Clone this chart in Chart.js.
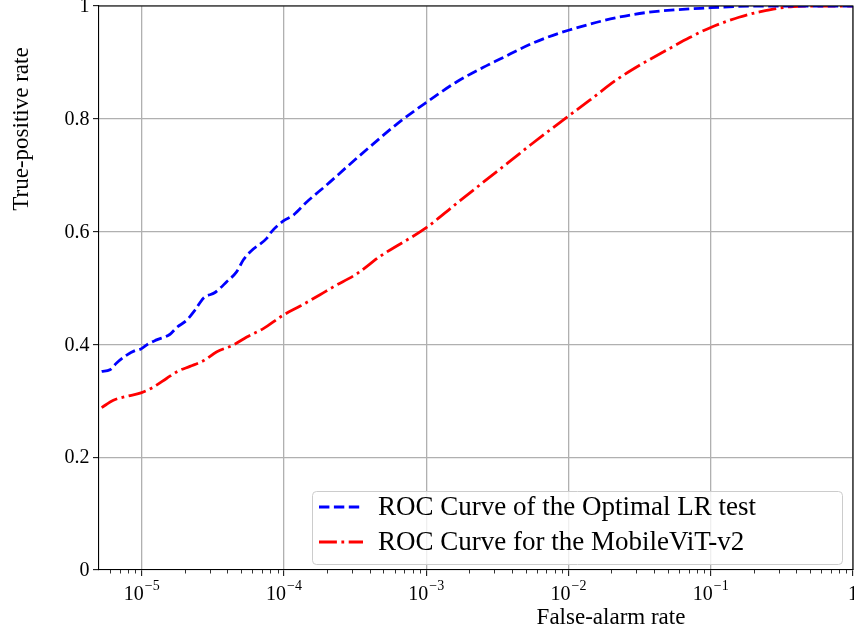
<!DOCTYPE html>
<html>
<head>
<meta charset="utf-8">
<script src="https://cdn.jsdelivr.net/npm/chart.js@4.4.1/dist/chart.umd.min.js"></script>
<style>
  html, body { margin: 0; padding: 0; background: #fff; }
  #wrap { width: 854px; height: 632px; }
</style>
</head>
<body>
<div id="wrap"><canvas id="roc" width="854" height="632"></canvas></div>
<script>
const SERIF = '"Liberation Serif", "DejaVu Serif", serif';

// ROC curve of the optimal LR test (false-alarm rate, true-positive rate)
const optimalFar = [5.22e-6, 5.97e-6, 6.65e-6, 7.83e-6, 8.95e-6, 9.86e-6, 1.11e-5, 1.27e-5,
  1.58e-5, 1.76e-5, 2.07e-5, 2.37e-5, 2.71e-5, 3.27e-5, 3.95e-5, 4.65e-5, 5.18e-5, 5.77e-5,
  7.55e-5, 8.18e-5, 9.89e-5, 1.16e-4, 1.45e-4, 2.0e-4, 2.8e-4, 4.0e-4, 6.3e-4, 1e-3,
  1.6e-3, 2.5e-3, 3.3e-3, 5.7e-3, 1e-2, 2.85e-2, 0.1, 0.25, 1];
const optimalTpr = [0.352, 0.355, 0.367, 0.381, 0.389, 0.392, 0.401, 0.408,
  0.418, 0.430, 0.443, 0.461, 0.482, 0.492, 0.511, 0.529, 0.550, 0.564,
  0.588, 0.600, 0.619, 0.629, 0.653, 0.683, 0.716, 0.750, 0.792, 0.829,
  0.864, 0.891, 0.906, 0.935, 0.957, 0.985, 0.997, 1.0, 1.0];

// ROC curve for the MobileViT-v2 detector
const mobileFar = [5.22e-6, 6.31e-6, 7.83e-6, 9.86e-6, 1.2e-5, 1.5e-5, 1.81e-5, 2.18e-5,
  2.71e-5, 3.37e-5, 4.4e-5, 5.47e-5, 7.15e-5, 9.89e-5, 1.3e-4, 1.79e-4, 2.22e-4, 3.24e-4,
  4.73e-4, 1e-3, 1.58e-3, 2.5e-3, 3.98e-3, 5.42e-3, 9.3e-3, 1.41e-2, 2.2e-2, 3.16e-2,
  5e-2, 7.1e-2, 0.1, 0.158, 0.224, 0.38, 0.63, 1];
const mobileTpr = [0.288, 0.301, 0.308, 0.314, 0.324, 0.340, 0.353, 0.361,
  0.371, 0.387, 0.399, 0.413, 0.428, 0.452, 0.468, 0.488, 0.502, 0.525,
  0.556, 0.607, 0.647, 0.687, 0.727, 0.754, 0.799, 0.833, 0.870, 0.895,
  0.923, 0.944, 0.962, 0.980, 0.990, 0.999, 1.0, 1.0];

const xTicks = [1e-5, 1e-4, 1e-3, 1e-2, 1e-1, 1];
const xTickBase = ['10', '10', '10', '10', '10', '1'];
const xTickExp = ['\u22125', '\u22124', '\u22123', '\u22122', '\u22121', ''];
const yTicks = [0, 0.2, 0.4, 0.6, 0.8, 1];
const yTickLabels = ['0', '0.2', '0.4', '0.6', '0.8', '1'];
const legendLabels = ['ROC Curve of the Optimal LR test', 'ROC Curve for the MobileViT-v2'];
const xTitle = 'False-alarm rate';
const yTitle = 'True-positive rate';

const BLUE_DASH = [10.4, 4.5];
const RED_DASH = [17.9, 4.5, 2.8, 4.5];

function toPoints(xs, ys) {
  return xs.map((x, i) => ({ x: x, y: ys[i] }));
}

/**
 * Spines, minor ticks, tick labels, axis titles and the in-axes legend
 */
const axesDecor = {
  id: 'axesDecor',
  afterDraw(chart) {
    const ctx = chart.ctx;
    const ca = chart.chartArea;
    const xs = chart.scales.x;
    const ys = chart.scales.y;
    ctx.save();

    // top and right spines
    ctx.strokeStyle = '#000';
    ctx.lineWidth = 1.1;
    ctx.beginPath();
    ctx.moveTo(ca.left, ca.top);
    ctx.lineTo(ca.right, ca.top);
    ctx.lineTo(ca.right, ca.bottom);
    ctx.stroke();

    // minor log ticks on the x axis
    ctx.lineWidth = 0.8;
    ctx.beginPath();
    for (let k = -6; k <= 0; k++) {
      for (let m = 2; m <= 9; m++) {
        const v = m * Math.pow(10, k);
        if (v < xs.min || v > xs.max) continue;
        const px = Math.round(xs.getPixelForValue(v)) + 0.5;
        ctx.moveTo(px, ca.bottom);
        ctx.lineTo(px, ca.bottom + 3.5);
      }
    }
    ctx.stroke();

    // x tick labels as 10^k
    ctx.fillStyle = '#000';
    ctx.textBaseline = 'alphabetic';
    ctx.textAlign = 'left';
    xTicks.forEach((v, i) => {
      const px = xs.getPixelForValue(v);
      ctx.font = '20px ' + SERIF;
      const wb = ctx.measureText(xTickBase[i]).width;
      ctx.font = '14px ' + SERIF;
      const we = ctx.measureText(xTickExp[i]).width;
      const x0 = px - (wb + we + (we ? 1 : 0)) / 2;
      ctx.font = '20px ' + SERIF;
      ctx.fillText(xTickBase[i], x0, ca.bottom + 30);
      if (we) {
        ctx.font = '14px ' + SERIF;
        ctx.fillText(xTickExp[i], x0 + wb + 1, ca.bottom + 20);
      }
    });

    // y tick labels
    ctx.font = '20px ' + SERIF;
    ctx.textAlign = 'right';
    ctx.textBaseline = 'middle';
    yTicks.forEach((v, i) => {
      ctx.fillText(yTickLabels[i], ca.left - 9.5, ys.getPixelForValue(v) + 1);
    });

    // axis titles (placed off-centre as in the original figure)
    ctx.font = '23px ' + SERIF;
    ctx.textAlign = 'center';
    ctx.textBaseline = 'alphabetic';
    ctx.fillText(xTitle, ca.left + 512, ca.bottom + 54);
    ctx.save();
    ctx.translate(ca.left - 71, ca.top + 123);
    ctx.rotate(-Math.PI / 2);
    ctx.fillText(yTitle, 0, 0);
    ctx.restore();

    // legend box in the lower right corner
    const bw = 530, bh = 73;
    const bx = ca.right - 11 - bw;
    const by = ca.bottom - 6 - bh;
    ctx.beginPath();
    ctx.roundRect(bx + 0.5, by + 0.5, bw, bh, 4);
    ctx.fillStyle = 'rgba(255,255,255,0.8)';
    ctx.fill();
    ctx.strokeStyle = '#cccccc';
    ctx.lineWidth = 1;
    ctx.stroke();

    chart.data.datasets.forEach((ds, i) => {
      const ry = by + 16 + i * 35;
      ctx.beginPath();
      ctx.setLineDash(ds.borderDash);
      ctx.strokeStyle = ds.borderColor;
      ctx.lineWidth = ds.borderWidth;
      ctx.moveTo(bx + 7, ry);
      ctx.lineTo(bx + 51, ry);
      ctx.stroke();
      ctx.setLineDash([]);
      ctx.fillStyle = '#000';
      ctx.font = '27px ' + SERIF;
      ctx.textAlign = 'left';
      ctx.textBaseline = 'middle';
      ctx.fillText(legendLabels[i], bx + 66, ry + 1);
    });

    ctx.restore();
  }
};

const gridStyle = {
  color: '#b0b0b0',
  lineWidth: 1.3,
  drawTicks: true,
  tickLength: 6,
  tickColor: '#000',
  tickWidth: 1
};

new Chart(document.getElementById('roc'), {
  type: 'line',
  data: {
    datasets: [{
      label: legendLabels[0],
      data: toPoints(optimalFar, optimalTpr),
      borderColor: '#0000ff',
      borderWidth: 2.8,
      borderDash: BLUE_DASH,
      pointRadius: 0,
      fill: false,
      cubicInterpolationMode: 'monotone'
    }, {
      label: legendLabels[1],
      data: toPoints(mobileFar, mobileTpr),
      borderColor: '#ff0000',
      borderWidth: 2.8,
      borderDash: RED_DASH,
      pointRadius: 0,
      fill: false,
      cubicInterpolationMode: 'monotone'
    }]
  },
  options: {
    responsive: false,
    animation: false,
    events: [],
    layout: { padding: { top: 6, right: 1, left: 0, bottom: 0 } },
    plugins: {
      legend: { display: false },
      tooltip: { enabled: false }
    },
    scales: {
      x: {
        type: 'logarithmic',
        position: 'bottom',
        min: 5e-6,
        max: 1,
        afterBuildTicks: (scale) => {
          scale.ticks = xTicks.map(v => ({ value: v }));
        },
        afterFit: (scale) => { scale.height = 62; },
        ticks: { display: false },
        grid: gridStyle,
        border: { display: true, color: '#000', width: 1.1 }
      },
      y: {
        type: 'linear',
        min: 0,
        max: 1,
        afterBuildTicks: (scale) => {
          scale.ticks = yTicks.map(v => ({ value: v }));
        },
        afterFit: (scale) => { scale.width = 99; },
        ticks: { display: false },
        grid: gridStyle,
        border: { display: true, color: '#000', width: 1.1 }
      }
    }
  },
  plugins: [axesDecor]
});
</script>
</body>
</html>
